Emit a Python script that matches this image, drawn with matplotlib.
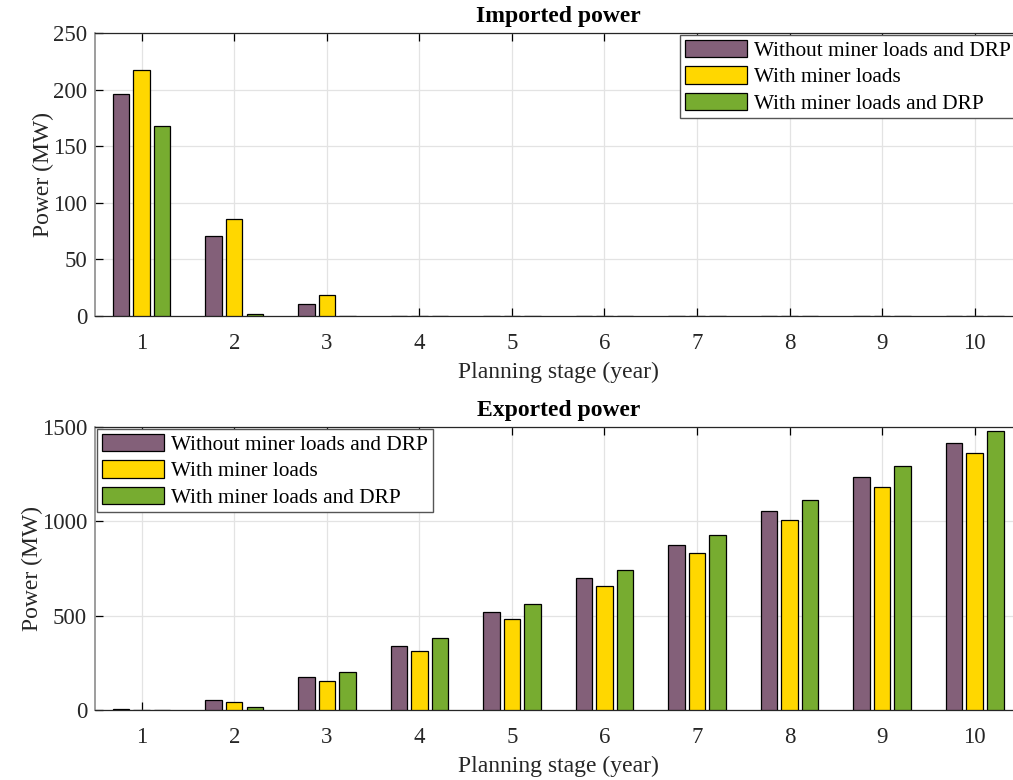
import numpy as np
import matplotlib
matplotlib.use("Agg")
import matplotlib.pyplot as plt

plt.rcParams["font.family"] = ["Liberation Serif", "DejaVu Serif"]

# ---------- data ----------
years = [1, 2, 3, 4, 5, 6, 7, 8, 9, 10]
series_names = ["Without miner loads and DRP", "With miner loads", "With miner loads and DRP"]

imported_base = [196, 71, 10.5, 0, 0, 0, 0, 0, 0, 0]
imported_miner = [217, 86, 18.5, 0, 0, 0, 0, 0, 0, 0]
imported_drp = [168, 1.5, 0, 0, 0, 0, 0, 0, 0, 0]

exported_base = [3, 55, 173, 341, 518, 698, 876, 1055, 1233, 1413]
exported_miner = [2, 44, 152, 311, 484, 659, 834, 1009, 1182, 1360]
exported_drp = [2, 17, 200, 380, 563, 743, 926, 1111, 1292, 1477]

colors = ["#836079", "#FFD700", "#77AC30"]


def draw_panel(ax, values, title, ymax, yticks, legend_anchor):
    x = np.array(years)
    offset = 0.222
    width = 0.178
    for i, (vals, col, name) in enumerate(zip(values, colors, series_names)):
        ax.bar(x + (i - 1) * offset, vals, width=width, color=col,
               edgecolor="black", linewidth=0.9, label=name, zorder=3)

    ax.set_xlim(0.5, 10.5)
    ax.set_ylim(0, ymax)
    ax.set_xticks(years)
    ax.set_yticks(yticks)
    ax.tick_params(direction="in", top=True, right=True, labelsize=16.5,
                   length=6, width=0.9, labelcolor="#262626")
    ax.tick_params(axis="x", pad=12)
    ax.tick_params(axis="y", pad=6)
    ax.grid(True, color="#e3e3e3", linewidth=0.9, zorder=0)
    ax.set_axisbelow(True)
    for s in ["top", "bottom", "right"]:
        ax.spines[s].set_color("#262626")
        ax.spines[s].set_linewidth(0.9)
    ax.spines["left"].set_color("#8c8c8c")
    ax.spines["left"].set_linewidth(1.2)

    ax.set_xlabel("Planning stage (year)", fontsize=17, color="#262626", labelpad=6)
    ax.set_ylabel("Power (MW)", fontsize=17, color="#262626", labelpad=-1)
    ax.set_title(title, fontsize=17, fontweight="bold", pad=8)

    leg = ax.legend(loc="upper left", bbox_to_anchor=legend_anchor, fontsize=15.3,
                    handlelength=2.9, handleheight=0.9, handletextpad=0.35,
                    labelspacing=0.25, borderpad=0.22, borderaxespad=0.0,
                    fancybox=False, framealpha=1.0, edgecolor="#555555")
    leg.get_frame().set_linewidth(1.0)


fig = plt.figure(figsize=(10.13, 7.8), dpi=100)
ax_imp = fig.add_axes([0.0942, 0.5949, 0.9137, 0.3628])
ax_exp = fig.add_axes([0.0942, 0.0897, 0.9137, 0.3628])

draw_panel(ax_imp, [imported_base, imported_miner, imported_drp], "Imported power",
           250, [0, 50, 100, 150, 200, 250], (0.632, 0.993))
draw_panel(ax_exp, [exported_base, exported_miner, exported_drp], "Exported power",
           1500, [0, 500, 1000, 1500], (0.002, 0.993))

fig.savefig("out.png", dpi=100)
